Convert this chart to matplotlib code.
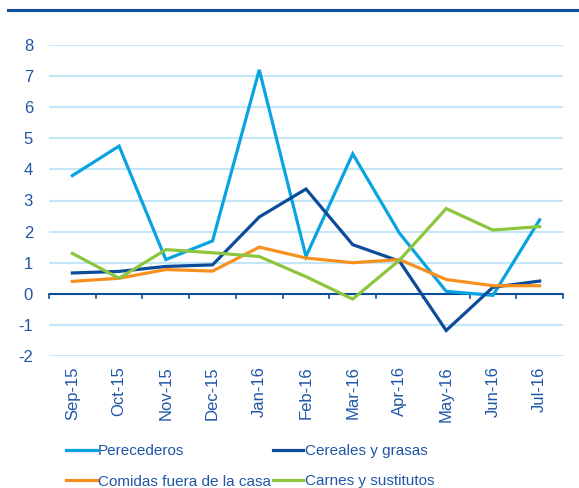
import matplotlib
matplotlib.use("Agg")
import matplotlib.pyplot as plt
from matplotlib.lines import Line2D

plt.rcParams['font.family'] = ['Liberation Sans', 'DejaVu Sans']

categories = ["Sep-15", "Oct-15", "Nov-15", "Dec-15", "Jan-16", "Feb-16",
              "Mar-16", "Apr-16", "May-16", "Jun-16", "Jul-16"]
perecederos = [3.8, 4.75, 1.1, 1.7, 7.2, 1.2, 4.5, 1.95, 0.08, -0.05, 2.38]
cereales = [0.67, 0.72, 0.88, 0.93, 2.47, 3.37, 1.58, 1.05, -1.18, 0.21, 0.41]
comidas = [0.4, 0.5, 0.78, 0.73, 1.5, 1.15, 1.0, 1.1, 0.46, 0.26, 0.26]
carnes = [1.3, 0.5, 1.42, 1.32, 1.2, 0.55, -0.17, 1.08, 2.74, 2.05, 2.16]
series_names = ["Perecederos", "Cereales y grasas", "Comidas fuera de la casa", "Carnes y sustitutos"]
yticks = [-2, -1, 0, 1, 2, 3, 4, 5, 6, 7, 8]

c_per = "#0aa3e2"
c_cer = "#0d4c9b"
c_com = "#f7901e"
c_car = "#8cc63f"
txt = "#1f56a8"
grid_c = "#c4e7f8"

W, H = 579, 488
fig = plt.figure(figsize=(W / 100, H / 100), dpi=100)
ax = fig.add_axes([49 / W, 1 - 356 / H, (563 - 49) / W, (356 - 45) / H])

x = list(range(len(categories)))
lw = 2.3
colors = [c_per, c_cer, c_com, c_car]
for vals, col in zip([perecederos, cereales, comidas, carnes], colors):
    ax.plot(x, vals, color=col, lw=lw, solid_joinstyle='miter', zorder=3)

ax.set_xlim(-0.5, len(categories) - 0.5)
ax.set_ylim(-2, 8)
for yv in yticks:
    if yv != 0:
        ax.axhline(yv, color=grid_c, lw=1.5, zorder=1)
ax.axhline(0, color=c_cer, lw=1.5, zorder=2)
# tick marks on zero axis at category boundaries
for b in range(len(categories) + 1):
    ax.plot([b - 0.5, b - 0.5], [0, -0.14], color=c_cer, lw=1.2, zorder=2, clip_on=False)

for s in ax.spines.values():
    s.set_visible(False)

ax.set_yticks(yticks)
ax.set_yticklabels([str(v) for v in yticks], color=txt, fontsize=12)
ax.set_xticks(x)
ax.set_xticklabels(categories, rotation=90, color=txt, fontsize=12)
ax.tick_params(axis='both', length=0)
ax.tick_params(axis='y', pad=11.5)
ax.tick_params(axis='x', pad=7.5)

# top rule
fig.add_artist(Line2D([8 / W, 1.0], [1 - 10 / H, 1 - 10 / H], color="#0d4ea0", lw=2.2))

# legend order: row-wise (Perecederos, Cereales / Comidas, Carnes)
order = [0, 2, 1, 3]
handles = [Line2D([], [], color=colors[i], lw=lw) for i in order]
labels = [series_names[i] for i in order]
leg = fig.legend(handles, labels, ncol=2, loc='upper left',
                 bbox_to_anchor=(66 / W, 1 - 444 / H), frameon=False,
                 fontsize=11, handlelength=2.0, handletextpad=0.1,
                 columnspacing=0.1, labelspacing=1.08, borderpad=0, borderaxespad=0)
for t in leg.get_texts():
    t.set_color(txt)

fig.savefig("out.png", dpi=100)
